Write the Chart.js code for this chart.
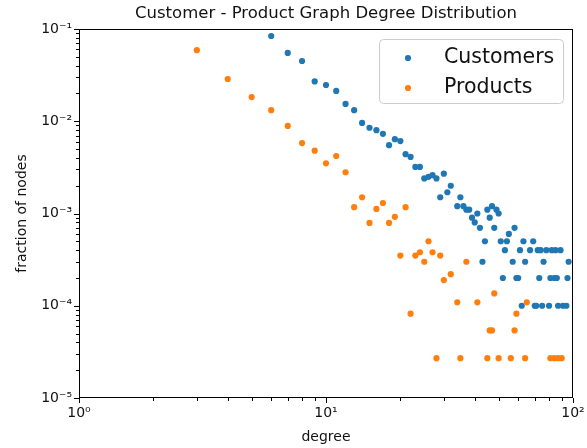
<!DOCTYPE html>
<html>
<head>
<meta charset="utf-8">
<script src="https://cdn.jsdelivr.net/npm/chart.js@4.4.0/dist/chart.umd.min.js"></script>
<style>
  html, body { margin: 0; padding: 0; background: #fff; }
  #wrap { width: 587px; height: 448px; }
</style>
</head>
<body>
<div id="wrap"><canvas id="chart" width="587" height="448"></canvas></div>
<script>
// values (fraction of nodes per degree)
const customerDegree = [6, 7, 8, 9, 10, 11, 12, 13, 14, 15, 16, 17, 18, 19, 20, 21, 22, 23, 24, 25,
  26, 27, 28, 29, 30, 31, 32, 34, 35, 36, 37, 38, 39, 40, 41, 42, 43, 44, 45, 46,
  47, 48, 49, 50, 51, 52, 53, 54, 55, 57, 58, 59, 60, 61, 62, 63, 64, 67, 69, 70,
  71, 72, 73, 74, 75, 76, 78, 80, 81, 82, 84, 85, 86, 87, 89, 91, 94, 95, 96];
const customerFraction = [0.084, 0.055, 0.045, 0.027, 0.0247, 0.0213, 0.0154, 0.0132, 0.0096, 0.0085,
  0.008, 0.0073, 0.0055, 0.0064, 0.0061, 0.0044, 0.0041, 0.0032, 0.0032, 0.0024,
  0.0025, 0.0026, 0.0024, 0.0015, 0.0027, 0.0017, 0.002, 0.0012, 0.0015, 0.0012,
  0.0011, 0.0011, 0.0009, 0.0008, 0.001, 0.0007, 0.0003, 0.0005, 0.0011, 0.0009,
  0.0012, 0.0007, 0.0011, 0.001, 0.0005, 0.0002, 0.0004, 0.0005, 0.0006, 0.0003,
  0.0007, 0.0002, 0.0002, 0.0004, 0.0001, 0.0005, 0.0003, 0.0004, 0.0005, 0.0001,
  0.0001, 0.0004, 0.0002, 0.0004, 0.0001, 0.0003, 0.0004, 0.0001, 0.0002, 0.0004,
  0.0002, 0.0004, 0.0002, 0.0001, 0.0004, 0.0001, 0.0001, 0.0002, 0.0003];

const productDegree = [3, 4, 5, 6, 7, 8, 9, 10, 11, 12, 13, 14, 15, 16, 17, 18, 19, 20, 21, 22,
  23, 24, 25, 26, 27, 28, 29, 30, 32, 34, 35, 37, 41, 45, 46, 47, 48, 50, 56, 58,
  59, 64, 65, 81, 84, 87, 90];
const productFraction = [0.059, 0.0287, 0.0183, 0.0132, 0.0089, 0.0058, 0.0048, 0.0035, 0.0042, 0.0028,
  0.00117, 0.0015, 0.00079, 0.00112, 0.0013, 0.00079, 0.00092, 0.00035, 0.00117, 0.000082,
  0.00035, 0.00038, 0.0003, 0.0005, 0.00038, 0.000027, 0.00035, 0.00019, 0.00022, 0.000109,
  0.000027, 0.0003, 0.000109, 0.000027, 0.000054, 0.000054, 0.000136, 0.000027, 0.000027, 0.000054,
  0.000082, 0.000027, 0.000109, 0.000027, 0.000027, 0.000027, 0.000027];

const xTickValues = [1, 10, 100];
const xTickLabels = ["10⁰", "10¹", "10²"];
const yTickValues = [1e-5, 1e-4, 1e-3, 1e-2, 1e-1];
const yTickLabels = ["10⁻⁵", "10⁻⁴", "10⁻³", "10⁻²", "10⁻¹"];

const seriesNames = ["Customers", "Products"];
const seriesColors = ["#1f77b4", "#ff7f0e"];

const FONT = "'DejaVu Sans', sans-serif";

function toPoints(xs, ys) {
  return xs.map((x, i) => ({ x: x, y: ys[i] }));
}

// matplotlib-like frame with outward major/minor ticks
const axesBox = {
  id: "axesBox",
  afterDatasetsDraw(chart) {
    const { ctx, chartArea: a, scales } = chart;
    ctx.save();
    ctx.strokeStyle = "#000";
    ctx.lineWidth = 1;
    ctx.strokeRect(a.left + 0.5, a.top + 0.5, a.right - a.left - 1, a.bottom - a.top - 1);

    ctx.beginPath();
    for (let e = 0; e <= 2; e++) {
      for (let k = 1; k <= 9; k++) {
        const v = k * Math.pow(10, e);
        if (v > 100) break;
        const px = Math.round(scales.x.getPixelForValue(v)) + 0.5;
        const len = k === 1 ? 5 : 3;
        ctx.moveTo(px, a.bottom);
        ctx.lineTo(px, a.bottom + len);
      }
    }
    for (let e = -5; e <= -1; e++) {
      for (let k = 1; k <= 9; k++) {
        const v = k * Math.pow(10, e);
        if (v > 0.10001) break;
        const py = Math.round(scales.y.getPixelForValue(v)) + 0.5;
        const len = k === 1 ? 5 : 3;
        ctx.moveTo(a.left, py);
        ctx.lineTo(a.left - len, py);
      }
    }
    ctx.stroke();
    ctx.restore();
  }
};

// legend box in the upper right of the plot
const innerLegend = {
  id: "innerLegend",
  afterDraw(chart) {
    const { ctx, chartArea: a } = chart;
    const w = 184, h = 64;
    const left = a.right - 10 - w;
    const top = a.top + 10;
    ctx.save();
    ctx.beginPath();
    ctx.roundRect(left + 0.5, top + 0.5, w, h, 4);
    ctx.fillStyle = "rgba(255,255,255,0.8)";
    ctx.fill();
    ctx.strokeStyle = "#cccccc";
    ctx.lineWidth = 1;
    ctx.stroke();

    ctx.font = "20.5px " + FONT;
    ctx.textBaseline = "middle";
    ctx.textAlign = "left";
    seriesNames.forEach((name, i) => {
      const y = top + 19 + i * 30;
      ctx.beginPath();
      ctx.arc(left + 29, y, 3.1, 0, Math.PI * 2);
      ctx.fillStyle = seriesColors[i];
      ctx.fill();
      ctx.fillStyle = "#111";
      ctx.fillText(name, left + 65, y);
    });
    ctx.restore();
  }
};

const ctx = document.getElementById("chart").getContext("2d");
new Chart(ctx, {
  type: "scatter",
  data: {
    datasets: [
      {
        label: seriesNames[0],
        data: toPoints(customerDegree, customerFraction),
        backgroundColor: seriesColors[0],
        borderWidth: 0,
        pointRadius: 3.1,
        order: 2
      },
      {
        label: seriesNames[1],
        data: toPoints(productDegree, productFraction),
        backgroundColor: seriesColors[1],
        borderWidth: 0,
        pointRadius: 3.1,
        order: 1
      }
    ]
  },
  options: {
    responsive: false,
    animation: false,
    devicePixelRatio: 1,
    layout: { padding: { left: 0, right: 14, top: 0, bottom: 0 } },
    plugins: {
      legend: { display: false },
      tooltip: { enabled: false },
      title: {
        display: true,
        fullSize: false,
        text: "Customer - Product Graph Degree Distribution",
        color: "#111",
        font: { family: FONT, size: 16.5, weight: "normal" },
        lineHeight: 1.2,
        padding: { top: 4, bottom: 5.2 }
      }
    },
    scales: {
      x: {
        type: "logarithmic",
        min: 1,
        max: 100,
        grid: { display: false, drawTicks: false },
        border: { display: false },
        afterBuildTicks: scale => { scale.ticks = xTickValues.map(v => ({ value: v })); },
        afterFit: scale => {
          scale.height = 50;
          scale.paddingLeft = 0;
          scale.paddingRight = 0;
        },
        ticks: {
          autoSkip: false,
          maxRotation: 0,
          padding: 7,
          color: "#111",
          font: { family: FONT, size: 14 },
          callback: (value, index) => xTickLabels[index]
        },
        title: {
          display: true,
          text: "degree",
          color: "#111",
          font: { family: FONT, size: 14 },
          padding: { top: 0, bottom: 2.6 }
        }
      },
      y: {
        type: "logarithmic",
        min: 1e-5,
        max: 0.1,
        grid: { display: false, drawTicks: false },
        border: { display: false },
        afterBuildTicks: scale => { scale.ticks = yTickValues.map(v => ({ value: v })); },
        afterFit: scale => { scale.width = 79; },
        ticks: {
          autoSkip: false,
          padding: 7,
          color: "#111",
          font: { family: FONT, size: 14 },
          callback: (value, index) => yTickLabels[index]
        },
        title: {
          display: true,
          text: "fraction of nodes",
          color: "#111",
          font: { family: FONT, size: 14 },
          padding: { top: 13.6, bottom: 0 }
        }
      }
    }
  },
  plugins: [axesBox, innerLegend]
});
</script>
</body>
</html>
